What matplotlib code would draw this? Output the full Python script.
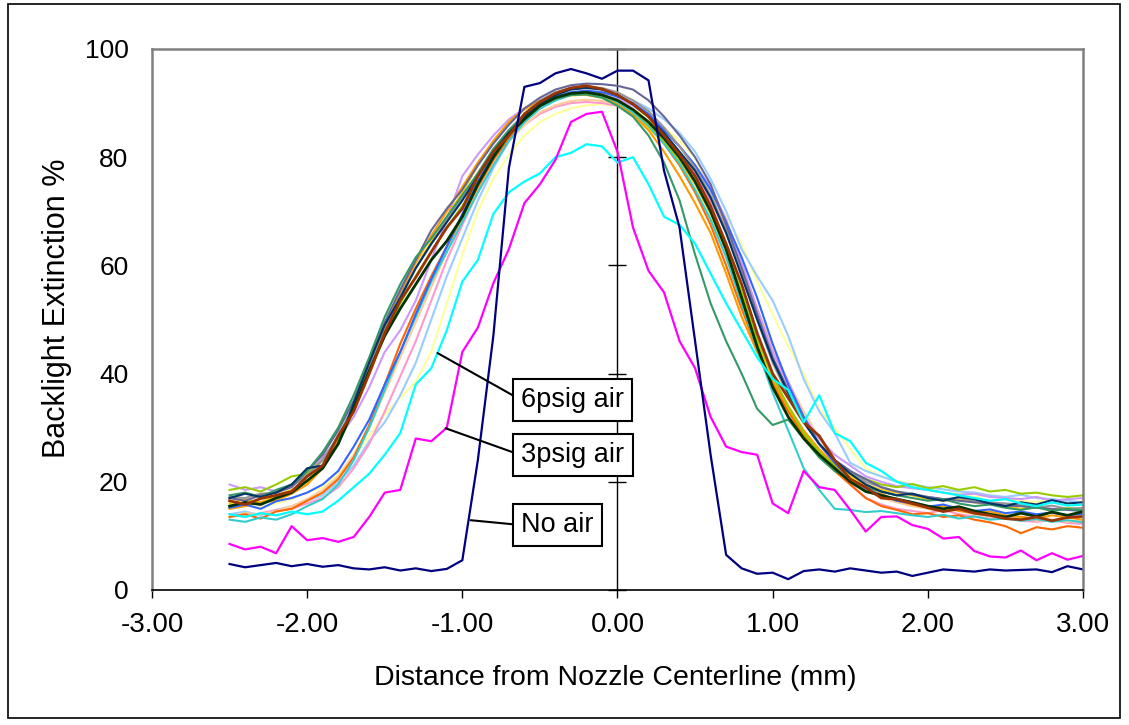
import numpy as np
import matplotlib
matplotlib.use("Agg")
import matplotlib.pyplot as plt
from matplotlib.patches import Rectangle

plt.rcParams['font.family'] = ['Liberation Sans', 'DejaVu Sans']
plt.rcParams['axes.unicode_minus'] = False

# sample positions (mm), -2.5 .. 3.0 in 0.1 steps
x = np.round(np.arange(-2.5, 3.01, 0.1), 1)

# labelled profiles
no_air = [4.8, 4.2, 4.6, 5.0, 4.4, 4.8, 4.3, 4.6, 4.0, 3.8,
          4.2, 3.6, 4.0, 3.5, 3.9, 5.5, 24.0, 47.0, 78.0, 93.0,
          93.7, 95.5, 96.3, 95.5, 94.5, 96.0, 96.0, 94.2, 77.5, 67.0,
          46.0, 25.0, 6.5, 4.0, 3.0, 3.2, 2.0, 3.5, 3.8, 3.4,
          4.0, 3.6, 3.2, 3.4, 2.6, 3.2, 3.8, 3.6, 3.4, 3.8,
          3.6, 3.7, 3.8, 3.3, 4.4, 3.8]
air_3psig = [8.5, 7.5, 8.0, 6.8, 11.8, 9.2, 9.6, 8.9, 9.8, 13.5,
             18.0, 18.5, 28.0, 27.5, 30.0, 44.0, 48.5, 56.7, 63.0, 71.5,
             75.0, 79.5, 86.5, 88.0, 88.4, 81.0, 67.0, 59.0, 55.0, 46.0,
             41.0, 32.0, 26.5, 25.5, 25.0, 16.0, 14.2, 22.0, 19.0, 18.5,
             14.8, 10.8, 13.5, 13.6, 12.0, 11.3, 9.5, 9.8, 7.2, 6.2,
             6.0, 7.3, 5.5, 6.8, 5.6, 6.3]
air_6psig = [14.0, 13.5, 14.2, 13.8, 14.5, 14.0, 14.5, 16.5, 19.0, 21.5,
             25.0, 29.0, 38.0, 41.0, 48.0, 57.0, 61.0, 69.5, 73.5, 75.5,
             77.0, 80.0, 80.8, 82.4, 82.0, 79.0, 80.0, 75.0, 69.0, 67.5,
             64.0, 58.5, 53.0, 48.0, 43.0, 39.0, 37.0, 31.0, 36.0, 29.0,
             27.5, 23.5, 22.0, 20.0, 19.0, 18.5, 18.0, 17.5, 17.0, 16.5,
             16.8, 16.0, 15.5, 16.2, 15.6, 15.8]

# the other runs (bundle of air-assisted profiles)
yellow = [15.0, 15.6, 15.2, 16.0, 16.8, 18.0, 19.0, 21.5, 24.5, 28.5,
          32.5, 35.5, 38.5, 44.0, 53.0, 62.0, 70.0, 76.0, 80.5, 84.0,
          86.5, 88.0, 89.0, 89.6, 89.8, 89.5, 88.8, 87.5, 85.5, 83.0,
          80.0, 73.0, 69.0, 64.0, 57.0, 51.0, 45.0, 40.0, 33.5, 30.0,
          26.0, 22.5, 21.0, 20.2, 19.5, 18.8, 18.0, 17.8, 17.2, 17.5,
          16.8, 16.5, 16.2, 16.8, 16.0, 16.4]
lightblue = [14.0, 14.5, 13.8, 14.8, 15.5, 16.5, 17.5, 20.0, 23.0, 27.5,
             31.0, 36.0, 42.0, 50.0, 58.0, 65.0, 72.0, 78.0, 83.0, 86.5,
             89.0, 90.5, 91.5, 92.0, 92.0, 91.5, 90.5, 89.0, 87.0, 84.5,
             81.0, 76.0, 70.0, 63.0, 58.0, 53.5, 47.0, 39.0, 33.0, 29.0,
             23.5, 22.0, 21.0, 20.0, 19.5, 19.0, 18.6, 18.2, 18.0, 17.5,
             17.2, 17.6, 17.0, 16.8, 16.5, 16.2]
pink = [14.0, 13.5, 14.2, 14.8, 15.0, 16.0, 17.0, 19.0, 22.5, 27.0,
        33.0, 39.5, 46.0, 53.5, 61.0, 67.5, 73.5, 78.5, 83.0, 86.0,
        88.0, 89.3, 90.0, 90.2, 90.0, 89.5, 88.5, 86.5, 83.5, 80.5,
        77.0, 72.0, 66.0, 58.5, 51.0, 44.0, 38.0, 32.0, 27.0, 23.0,
        19.5, 17.0, 15.8, 15.0, 14.6, 14.2, 14.8, 14.0, 13.6, 13.2,
        13.5, 12.8, 12.6, 12.9, 12.4, 12.2]
peach = [13.5, 14.2, 14.0, 14.6, 15.5, 16.8, 18.5, 21.0, 25.0, 30.0,
         36.5, 43.0, 49.5, 56.0, 62.5, 68.5, 74.0, 79.0, 83.0, 86.0,
         88.3, 89.6, 90.4, 90.6, 90.4, 89.8, 88.6, 86.8, 84.0, 81.0,
         77.5, 73.0, 67.0, 59.5, 52.0, 45.0, 38.5, 33.0, 28.0, 24.0,
         20.5, 18.5, 17.0, 16.2, 15.5, 15.0, 14.5, 14.8, 14.0, 13.6,
         13.2, 13.6, 12.8, 13.0, 12.6, 12.8]
lavender = [19.5, 18.5, 19.0, 18.2, 19.5, 21.5, 24.5, 28.0, 32.0, 37.5,
            44.0, 48.0, 53.5, 61.0, 68.5, 76.5, 80.5, 84.0, 87.0, 89.0,
            90.2, 91.0, 91.6, 91.8, 91.5, 90.8, 89.5, 87.5, 85.0, 82.0,
            78.5, 74.5, 68.5, 60.5, 52.0, 44.0, 38.5, 32.0, 28.0, 25.0,
            23.0, 21.0, 20.0, 19.2, 18.8, 18.5, 18.0, 17.6, 17.8, 17.2,
            17.0, 16.8, 17.2, 16.5, 16.8, 17.0]
gold = [16.0, 16.8, 16.2, 17.5, 18.5, 20.0, 22.8, 27.2, 33.0, 40.5,
        48.0, 54.0, 59.5, 64.5, 69.0, 73.5, 78.5, 83.0, 86.5, 88.8,
        90.2, 91.0, 91.4, 91.6, 91.2, 90.0, 88.0, 85.5, 82.5, 79.0,
        75.0, 69.5, 62.5, 54.5, 46.0, 39.0, 33.5, 29.0, 25.5, 23.0,
        21.0, 19.5, 18.5, 18.0, 17.5, 16.8, 16.5, 16.8, 16.2, 15.8,
        15.5, 15.0, 15.6, 14.8, 15.2, 14.9]
orange = [15.0, 15.5, 16.2, 16.5, 17.8, 19.5, 22.5, 27.5, 34.0, 41.0,
          48.5, 55.0, 60.5, 65.5, 70.0, 74.5, 79.0, 83.0, 86.5, 89.0,
          90.5, 91.2, 91.8, 91.5, 91.0, 89.8, 87.8, 85.0, 81.0, 76.5,
          71.5, 66.0, 58.5, 50.5, 44.0, 38.5, 34.0, 29.5, 26.0, 23.0,
          20.5, 18.5, 17.8, 16.5, 15.8, 15.2, 15.5, 14.6, 14.2, 14.5,
          13.8, 13.5, 13.2, 13.8, 13.4, 13.0]
orangered = [13.5, 14.0, 13.2, 14.5, 15.0, 16.5, 18.0, 20.5, 24.5, 30.5,
             38.0, 45.5, 52.0, 58.0, 63.5, 69.0, 74.5, 79.5, 83.5, 87.0,
             89.0, 90.8, 91.5, 92.0, 91.6, 90.5, 88.5, 86.0, 82.5, 78.5,
             73.5, 67.5, 60.0, 52.0, 44.5, 38.0, 33.0, 28.5, 25.0, 22.0,
             19.5, 17.0, 15.5, 14.8, 14.0, 14.2, 13.5, 13.8, 13.0, 12.5,
             11.8, 10.5, 11.6, 11.2, 11.8, 11.5]
turquoise = [13.0, 12.6, 13.4, 13.0, 14.0, 15.5, 16.8, 19.5, 24.0, 30.0,
             37.0, 44.0, 50.5, 57.0, 62.5, 68.0, 73.5, 78.5, 83.0, 86.5,
             89.0, 90.5, 91.5, 91.8, 91.4, 90.2, 88.3, 85.8, 82.5, 78.8,
             74.0, 68.5, 61.5, 53.0, 44.5, 36.5, 29.5, 22.5, 18.5, 15.0,
             14.8, 14.4, 14.6, 14.2, 13.8, 13.5, 13.9, 13.2, 13.6, 13.0,
             13.2, 12.8, 13.1, 12.6, 12.9, 12.5]
lime = [18.5, 19.0, 18.2, 19.5, 21.0, 21.5, 24.0, 28.0, 33.5, 40.0,
        47.0, 53.0, 58.0, 62.5, 67.0, 71.0, 75.5, 80.0, 84.0, 87.0,
        89.5, 90.8, 91.6, 91.8, 91.5, 90.5, 88.8, 86.2, 83.0, 79.5,
        75.5, 70.0, 63.0, 55.0, 46.5, 39.5, 34.0, 29.0, 25.5, 23.0,
        21.5, 20.5, 19.5, 19.0, 19.6, 18.8, 19.2, 18.5, 19.0, 18.2,
        18.5, 17.8, 18.0, 17.5, 17.2, 17.5]
blue = [15.2, 15.8, 15.0, 16.4, 17.0, 18.0, 19.5, 22.0, 26.5, 31.5,
        38.0, 44.0, 51.0, 57.5, 63.5, 69.5, 75.5, 80.5, 84.5, 87.5,
        89.8, 91.2, 92.0, 92.3, 92.0, 91.2, 90.0, 88.0, 85.0, 82.0,
        78.5, 74.0, 68.0, 61.5, 54.0, 45.5, 38.0, 32.0, 27.0, 23.5,
        20.5, 18.8, 17.5, 16.5, 16.0, 15.4, 15.8, 15.0, 14.6, 14.9,
        14.2, 14.5, 14.0, 14.3, 13.8, 14.1]
gray = [17.2, 17.0, 17.8, 18.0, 19.2, 21.2, 24.0, 28.5, 34.0, 41.0,
        48.0, 54.5, 59.5, 64.0, 68.5, 72.5, 77.0, 81.5, 85.0, 88.0,
        90.5, 92.0, 92.8, 93.0, 92.8, 92.0, 90.5, 88.5, 85.5, 82.0,
        78.0, 73.0, 66.5, 58.5, 50.0, 42.0, 36.0, 31.0, 27.0, 24.0,
        22.0, 20.0, 19.0, 18.2, 17.8, 17.2, 16.8, 17.0, 16.5, 16.2,
        16.0, 15.8, 15.2, 15.6, 15.0, 15.2]
slate = [17.0, 16.5, 17.5, 18.0, 19.0, 22.0, 25.0, 29.5, 35.0, 42.5,
         49.5, 55.5, 61.0, 66.5, 70.5, 74.0, 78.5, 82.5, 86.0, 89.0,
         91.0, 92.5, 93.3, 93.6, 93.5, 93.2, 92.5, 90.5, 87.5, 84.0,
         80.0, 75.0, 67.5, 59.5, 51.0, 43.0, 37.0, 31.5, 27.0, 24.0,
         22.0, 20.5, 19.0, 18.2, 17.6, 17.2, 16.8, 16.5, 16.2, 16.0,
         15.6, 15.5, 15.2, 15.0, 14.8, 14.6]
seagreen = [17.5, 18.0, 17.2, 18.5, 19.5, 22.0, 25.5, 30.0, 36.0, 43.0,
            50.5, 56.5, 61.5, 65.0, 69.0, 73.0, 77.0, 81.5, 85.0, 87.8,
            89.5, 90.8, 91.5, 91.6, 91.0, 89.5, 87.5, 84.0, 79.0, 72.0,
            62.0, 53.0, 46.0, 40.0, 33.5, 30.5, 31.5, 28.0, 24.5, 22.0,
            20.5, 19.0, 18.2, 17.5, 17.0, 16.5, 16.8, 16.0, 15.5, 15.8,
            15.2, 14.8, 15.3, 14.6, 15.0, 14.7]
darknavy = [17.0, 17.8, 17.2, 18.0, 19.5, 22.5, 23.0, 27.0, 34.5, 42.0,
            49.0, 54.0, 59.5, 64.0, 68.0, 72.0, 76.5, 81.0, 84.5, 87.5,
            90.0, 91.5, 92.5, 92.8, 92.5, 91.5, 89.8, 87.5, 84.5, 81.0,
            77.5, 72.5, 66.0, 58.0, 50.0, 42.5, 36.5, 31.0, 27.0, 24.0,
            21.5, 19.5, 18.2, 17.5, 17.8, 17.0, 16.5, 17.2, 16.8, 16.0,
            15.5, 16.2, 15.8, 16.6, 16.0, 16.2]
darkgreen = [15.5, 16.2, 15.8, 17.0, 18.0, 20.2, 22.5, 27.0, 33.5, 40.5,
             47.0, 52.0, 56.5, 61.0, 64.5, 69.0, 75.0, 80.0, 84.2, 87.0,
             89.5, 91.0, 91.8, 92.0, 91.5, 90.5, 88.8, 86.5, 83.5, 80.0,
             75.5, 70.0, 63.0, 54.0, 45.0, 37.5, 32.0, 28.0, 25.0, 22.5,
             20.0, 18.2, 17.5, 16.8, 16.2, 15.5, 15.0, 15.4, 14.6, 14.0,
             13.5, 14.2, 13.6, 14.4, 13.8, 14.5]
brown = [16.5, 15.8, 16.9, 17.5, 18.2, 21.0, 23.0, 28.5, 33.0, 40.0,
         47.5, 53.5, 57.8, 62.5, 67.0, 70.5, 76.5, 81.0, 84.0, 88.0,
         90.2, 91.8, 92.8, 93.2, 92.6, 91.5, 89.8, 87.5, 84.0, 80.5,
         76.5, 71.0, 64.0, 56.5, 47.5, 40.0, 35.5, 31.0, 28.5, 24.0,
         20.5, 19.0, 17.0, 16.8, 16.0, 15.2, 14.5, 15.0, 14.2, 13.8,
         13.2, 13.0, 13.5, 12.8, 13.4, 13.6]

bundle = [
    (yellow, '#FFFF99'), (lightblue, '#99CCFF'), (pink, '#FF99CC'),
    (peach, '#FFCC99'), (lavender, '#CC99FF'), (gold, '#FFCC00'),
    (orange, '#FF9900'), (orangered, '#FF6600'), (turquoise, '#33CCCC'),
    (lime, '#99CC00'), (blue, '#3366FF'), (gray, '#969696'),
    (slate, '#666699'), (seagreen, '#339966'), (darknavy, '#003366'),
    (darkgreen, '#003300'), (brown, '#993300'),
]

yticks = [0, 20, 40, 60, 80, 100]
xticks = [-3, -2, -1, 0, 1, 2, 3]

fig = plt.figure(figsize=(11.29, 7.25), dpi=100)
ax = fig.add_axes([0.13463, 0.18621, 0.82462, 0.74621])

for ys, c in bundle:
    lw = 2.0 if c in ('#993300', '#003300') else 1.5
    ax.plot(x, ys, color=c, lw=lw)
ax.plot(x, air_6psig, color='#00FFFF', lw=1.6)
ax.plot(x, air_3psig, color='#FF00FF', lw=1.6)
ax.plot(x, no_air, color='#000080', lw=1.6)

ax.set_xlim(-3, 3)
ax.set_ylim(0, 100)

# value axis drawn through x = 0 with crossing ticks
ax.axvline(0, color='black', lw=1, zorder=1)
ax.plot([0] * len(yticks), yticks, ls='none', marker='_', ms=13, mew=1,
        color='black', clip_on=False, zorder=1)

for side in ('left', 'top', 'right'):
    ax.spines[side].set_color('#808080')
    ax.spines[side].set_linewidth(1.8)
ax.spines['bottom'].set_color('black')
ax.spines['bottom'].set_linewidth(1.2)

ax.set_yticks(yticks)
ax.set_yticklabels([str(v) for v in yticks])
ax.set_xticks(xticks)
ax.set_xticklabels([f"{v:.2f}" for v in xticks])
ax.tick_params(axis='y', length=0, pad=17, labelsize=19)
ax.tick_params(axis='x', direction='out', length=6, width=1, pad=10, labelsize=20)

fig.text(615 / 1129, 1 - 678 / 725, 'Distance from Nozzle Centerline (mm)',
         ha='center', va='center', fontsize=20.5)
fig.text(57 / 1129, 1 - 308 / 725, 'Backlight Extinction %', rotation=90,
         ha='center', va='center', fontsize=22)

# callout labels
callouts = [
    ('6psig air', (-1.16, 43.8), 35.1),
    ('3psig air', (-1.108, 29.9), 24.9),
    ('No air', (-0.947, 12.9), 12.0),
]
for label, (px, py), ty in callouts:
    ax.annotate(label, xy=(px, py), xytext=(-0.62, ty),
                ha='left', va='center', fontsize=19.5,
                bbox=dict(boxstyle='square,pad=0.3', fc='white', ec='black', lw=1.5),
                arrowprops=dict(arrowstyle='-', color='black', lw=1.5,
                                shrinkA=0, shrinkB=0, relpos=(0, 0.5)))

fig.add_artist(Rectangle((8 / 1129, 1 - 718 / 725), 1112 / 1129, 714 / 725,
                         transform=fig.transFigure, fill=False, ec='black', lw=1.2))

fig.savefig('out.png', dpi=100)
